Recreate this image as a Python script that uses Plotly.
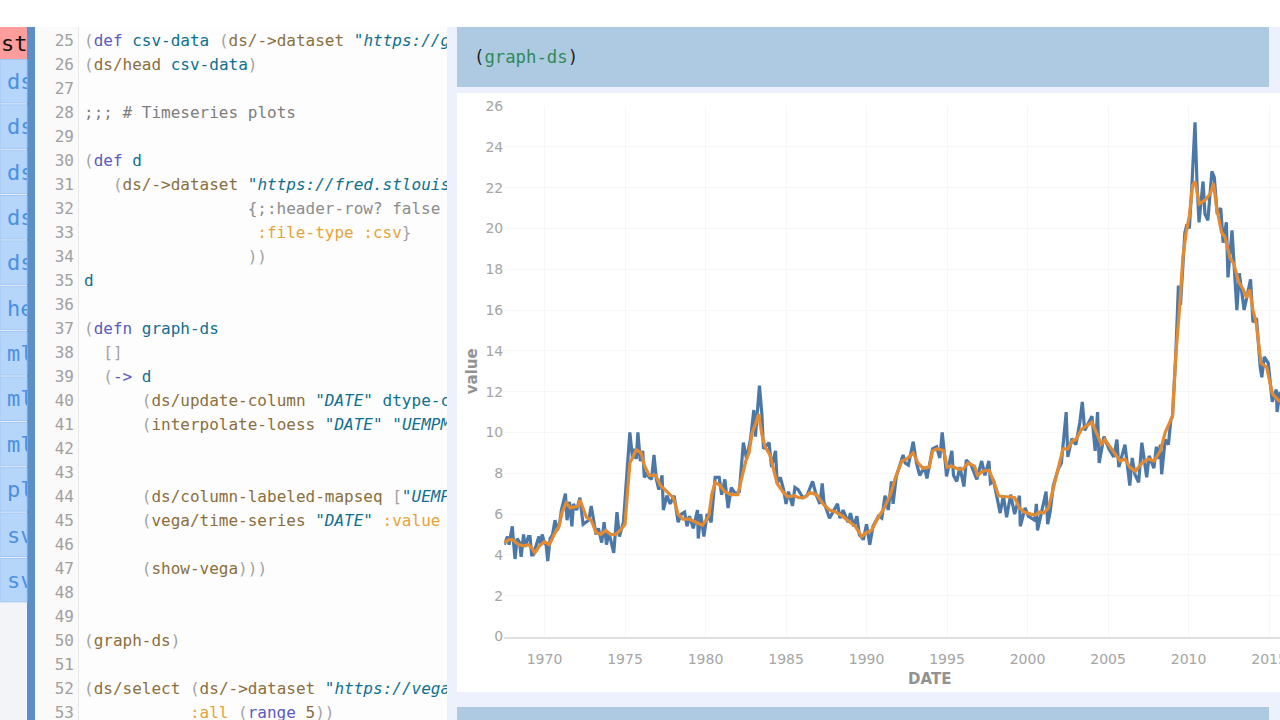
import pandas as pd
import plotly.graph_objects as go

# ---- chart data: (decimal year, value)
blue_points = [
(1967.5,4.5),(1967.7,4.9),(1967.8,4.5),(1967.9,5.1),(1968.0,5.4),(1968.08,4.6),(1968.17,3.8),(1968.3,4.8),
(1968.45,4.6),(1968.55,3.9),(1968.7,5.0),(1968.8,4.4),(1969.0,4.9),(1969.1,4.9),(1969.2,4.0),(1969.3,4.0),
(1969.5,4.5),(1969.65,4.9),(1969.76,4.5),(1969.85,5.0),(1970.0,4.6),(1970.1,4.5),(1970.2,3.7),(1970.35,4.8),
(1970.5,5.0),(1970.65,5.7),(1970.8,5.2),(1970.95,5.6),(1971.05,6.2),(1971.3,7.0),(1971.4,5.7),(1971.55,6.6),
(1971.7,5.4),(1971.8,6.5),(1972.0,6.2),(1972.2,6.8),(1972.4,5.5),(1972.55,5.6),(1972.75,5.7),(1972.9,6.4),
(1973.05,5.7),(1973.2,5.0),(1973.35,5.3),(1973.55,4.6),(1973.7,5.6),(1973.85,4.5),(1974.0,5.1),(1974.3,4.1),
(1974.5,6.1),(1974.65,4.9),(1974.9,5.6),(1975.04,7.2),(1975.15,8.5),(1975.3,10.0),(1975.47,8.7),(1975.6,9.2),
(1975.7,8.7),(1975.8,10.0),(1975.95,8.6),(1976.1,9.1),(1976.2,7.8),(1976.35,8.0),(1976.5,7.8),(1976.65,7.7),
(1976.8,8.9),(1976.95,7.7),(1977.1,7.2),(1977.3,7.9),(1977.38,6.2),(1977.6,6.9),(1977.8,6.5),(1978.05,6.9),
(1978.3,5.6),(1978.5,6.0),(1978.7,6.1),(1978.85,5.4),(1979.0,5.9),(1979.24,5.3),(1979.5,6.2),(1979.55,4.8),
(1979.7,6.0),(1979.9,4.9),(1980.1,6.0),(1980.35,5.6),(1980.6,7.8),(1980.85,7.8),(1981.0,6.95),(1981.2,7.7),
(1981.4,6.3),(1981.6,7.3),(1981.85,7.0),(1982.1,7.1),(1982.35,9.5),(1982.55,8.7),(1982.8,9.7),(1983.0,11.1),
(1983.1,9.8),(1983.35,12.3),(1983.5,10.9),(1983.6,9.2),(1983.95,9.5),(1984.1,8.3),(1984.35,9.1),(1984.45,7.5),
(1984.65,7.8),(1984.85,7.2),(1985.0,6.5),(1985.15,7.1),(1985.4,6.4),(1985.55,7.3),(1985.75,7.2),(1986.05,6.8),
(1986.3,6.9),(1986.65,7.6),(1986.85,7.0),(1987.1,6.5),(1987.25,7.5),(1987.35,6.6),(1987.7,5.8),(1987.85,6.0),
(1988.2,6.5),(1988.35,5.8),(1988.55,6.2),(1988.85,5.6),(1989.0,6.05),(1989.2,5.4),(1989.4,5.9),(1989.55,5.0),
(1989.8,4.75),(1990.0,5.5),(1990.2,4.5),(1990.4,5.4),(1990.75,5.9),(1990.95,5.8),(1991.15,6.9),(1991.35,6.2),
(1991.55,7.6),(1991.65,6.5),(1991.85,7.85),(1992.27,8.9),(1992.4,8.5),(1992.6,8.4),(1992.9,9.55),(1993.1,8.5),
(1993.3,7.9),(1993.6,8.3),(1993.75,7.75),(1994.1,9.2),(1994.35,9.3),(1994.55,8.75),(1994.7,10.0),(1994.82,9.1),
(1994.97,7.85),(1995.3,9.1),(1995.4,7.9),(1995.6,7.6),(1995.8,8.3),(1996.05,7.35),(1996.2,8.65),(1996.5,8.4),
(1996.85,7.7),(1997.15,8.6),(1997.35,7.9),(1997.6,8.6),(1997.7,7.5),(1997.9,7.6),(1998.3,6.05),(1998.5,6.9),
(1998.7,5.85),(1998.95,6.95),(1999.2,6.0),(1999.5,6.9),(1999.55,5.4),(1999.85,6.3),(2000.05,5.9),(2000.45,5.7),
(2000.55,6.5),(2000.62,5.2),(2000.85,6.1),(2001.15,7.1),(2001.25,5.5),(2001.4,6.1),(2001.6,7.4),(2001.9,8.2),
(2002.1,8.5),(2002.4,11.0),(2002.5,8.8),(2002.75,9.7),(2003.0,9.4),(2003.25,10.5),(2003.4,11.5),(2003.55,10.1),
(2004.0,10.8),(2004.2,9.1),(2004.35,11.0),(2004.45,8.5),(2004.75,9.8),(2005.05,9.2),(2005.35,8.8),(2005.55,9.65),
(2005.67,8.3),(2006.05,9.4),(2006.35,7.4),(2006.5,8.75),(2006.67,7.95),(2006.9,7.55),(2007.1,9.5),(2007.4,7.8),
(2007.55,8.85),(2007.85,8.25),(2008.0,9.3),(2008.15,8.7),(2008.25,9.4),(2008.33,7.95),(2008.55,9.65),(2008.75,9.4),
(2008.9,10.6),(2009.0,10.8),(2009.2,13.7),(2009.37,17.2),(2009.5,16.25),(2009.77,19.8),(2009.9,20.2),(2010.05,20.0),
(2010.2,22.0),(2010.4,25.2),(2010.52,22.3),(2010.65,20.3),(2010.9,22.3),(2011.02,20.7),(2011.2,20.4),(2011.45,22.8),
(2011.6,22.5),(2011.78,20.7),(2012.0,21.0),(2012.15,19.3),(2012.35,20.3),(2012.45,17.6),(2012.7,19.9),(2012.87,17.8),
(2013.0,16.0),(2013.15,17.8),(2013.45,16.0),(2013.85,17.5),(2014.0,15.4),(2014.22,15.6),(2014.45,13.2),(2014.55,12.7),
(2014.7,13.7),(2014.95,13.4),(2015.2,11.5),(2015.45,12.1),(2015.5,11.0),(2015.68,12.0),
]
orange_points = [
(1967.5,4.6),(1967.8,4.75),(1968.0,4.75),(1968.4,4.5),(1968.7,4.45),(1969.0,4.5),(1969.2,4.35),(1969.4,4.1),
(1969.7,4.45),(1970.0,4.65),(1970.3,4.5),(1970.6,5.0),(1970.9,5.4),(1971.1,6.1),(1971.35,6.55),(1971.6,6.3),
(1971.9,6.35),(1972.1,6.4),(1972.2,6.7),(1972.4,6.3),(1972.6,5.85),(1972.9,5.7),(1973.2,5.1),(1973.5,5.0),
(1973.8,5.2),(1974.1,5.0),(1974.4,5.0),(1974.7,5.2),(1975.0,5.5),(1975.15,7.0),(1975.3,8.5),(1975.7,9.15),
(1976.0,9.0),(1976.2,8.4),(1976.5,7.9),(1976.9,7.9),(1977.2,7.4),(1977.6,7.1),(1978.0,6.8),(1978.3,6.0),
(1978.6,5.75),(1979.0,5.75),(1979.4,5.6),(1979.8,5.45),(1980.2,5.9),(1980.4,7.0),(1980.6,7.55),(1980.9,7.4),
(1981.2,7.1),(1981.6,6.95),(1982.0,6.95),(1982.2,7.6),(1982.5,8.6),(1982.7,9.0),(1982.9,10.0),(1983.1,10.4),
(1983.3,10.9),(1983.5,9.9),(1983.7,9.3),(1984.0,8.9),(1984.2,8.3),(1984.45,7.5),(1984.8,7.1),(1985.1,6.85),
(1985.5,6.9),(1985.8,6.8),(1986.1,6.8),(1986.5,7.05),(1986.9,6.95),(1987.3,6.5),(1987.7,6.2),(1988.1,6.1),
(1988.5,5.9),(1989.0,5.6),(1989.3,5.4),(1989.7,4.9),(1990.0,5.1),(1990.3,5.2),(1990.7,5.8),(1991.1,6.3),
(1991.5,7.0),(1991.8,7.8),(1992.2,8.6),(1992.5,8.7),(1992.9,9.0),(1993.2,8.5),(1993.5,8.25),(1993.9,8.3),
(1994.1,9.1),(1994.4,9.2),(1994.8,9.1),(1995.0,8.3),(1995.3,8.35),(1995.7,8.2),(1996.0,8.2),(1996.3,8.5),
(1996.7,8.35),(1996.9,7.9),(1997.2,8.1),(1997.6,8.15),(1997.9,7.6),(1998.2,6.9),(1998.5,6.85),(1998.9,6.85),
(1999.2,6.8),(1999.5,6.3),(1999.8,6.1),(2000.2,6.0),(2000.5,5.95),(2000.7,6.1),(2001.0,6.05),(2001.3,6.3),
(2001.6,7.3),(2001.9,8.2),(2002.2,9.2),(2002.5,9.2),(2002.8,9.6),(2003.0,9.65),(2003.35,10.15),(2004.0,10.5),
(2004.3,9.9),(2004.6,9.4),(2004.8,9.65),(2005.2,9.2),(2005.75,8.6),(2006.05,8.7),(2006.35,8.3),(2006.7,8.1),
(2007.1,8.5),(2007.5,8.7),(2007.85,8.6),(2008.25,9.1),(2008.55,10.0),(2009.0,10.8),(2009.2,13.7),(2009.45,16.2),
(2009.65,18.6),(2009.85,19.8),(2010.05,20.6),(2010.25,22.1),(2010.4,22.3),(2010.67,21.2),(2011.05,21.4),(2011.35,21.7),
(2011.55,22.2),(2011.75,21.0),(2012.05,19.8),(2012.25,19.6),(2012.6,18.5),(2012.8,18.3),(2013.1,17.4),(2013.4,17.0),
(2013.6,16.6),(2013.8,17.0),(2014.0,16.0),(2014.2,15.35),(2014.5,13.4),(2014.85,13.2),(2015.2,11.9),(2015.68,11.5),
]
value_ticks = list(range(0, 27, 2))

# ---- editor text
PAREN, KW, NAME, CALL, STR, CMT, KEY, PLAIN = "#a3a3a3", "#5a5ac2", "#0f6f8f", "#8a6f3e", "#0f6f8f", "#7d7d7d", "#e6a33a", "#8c8c8c"
code_lines = {
    25: (0, [("(", PAREN), ("def", KW), (" ", PLAIN), ("csv-data", NAME), (" (", PAREN), ("ds/->dataset", CALL), (' "', STR), ("<i>https://g</i>", STR)]),
    26: (0, [("(", PAREN), ("ds/head", CALL), (" ", PLAIN), ("csv-data", NAME), (")", PAREN)]),
    28: (0, [(";;; # Timeseries plots", CMT)]),
    30: (0, [("(", PAREN), ("def", KW), (" ", PLAIN), ("d", NAME)]),
    31: (3, [("(", PAREN), ("ds/->dataset", CALL), (' "', STR), ("<i>https://fred.stlouis</i>", STR)]),
    32: (17, [("{;:header-row? false", PLAIN)]),
    33: (18, [(":file-type :csv", KEY), ("}", PAREN)]),
    34: (17, [("))", PAREN)]),
    35: (0, [("d", NAME)]),
    37: (0, [("(", PAREN), ("defn", KW), (" ", PLAIN), ("graph-ds", NAME)]),
    38: (2, [("[]", PAREN)]),
    39: (2, [("(", PAREN), ("->", KW), (" ", PLAIN), ("d", NAME)]),
    40: (6, [("(", PAREN), ("ds/update-column", CALL), (' "', STR), ("<i>DATE</i>", STR), ('" ', STR), ("dtype-c", NAME)]),
    41: (6, [("(", PAREN), ("interpolate-loess", CALL), (' "', STR), ("<i>DATE</i>", STR), ('" "', STR), ("<i>UEMPM</i>", STR)]),
    44: (6, [("(", PAREN), ("ds/column-labeled-mapseq", CALL), (" [", PAREN), ('"', STR), ("<i>UEMP</i>", STR)]),
    45: (6, [("(", PAREN), ("vega/time-series", CALL), (' "', STR), ("<i>DATE</i>", STR), ('" ', STR), (":value", KEY)]),
    47: (6, [("(", PAREN), ("show-vega", CALL), (")))", PAREN)]),
    50: (0, [("(", PAREN), ("graph-ds", CALL), (")", PAREN)]),
    52: (0, [("(", PAREN), ("ds/select", CALL), (" (", PAREN), ("ds/->dataset", CALL), (' "', STR), ("<i>https://vega</i>", STR)]),
    53: (11, [(":all", KEY), (" (", PAREN), ("range", KW), (" ", PLAIN), ("5", CALL), ("))", PAREN)]),
}
line_numbers = list(range(25, 54))
sidebar_labels = ["st", "ds", "ds", "ds", "ds", "ds", "he", "ml", "ml", "ml", "pl", "sv", "sv"]
sidebar_rows = [0.162] + list(range(1, 13))
sidebar_columns = [1] + [7] * 12
W, H = 1280, 720


def to_date(year):
    whole = int(year)
    return pd.Timestamp(whole, 1, 1) + pd.Timedelta(days=(year - whole) * 365.25)


def markup(parts):
    out = ""
    for text, colour in parts:
        out += f'<span style="color:{colour}">' + text.replace(" ", "\u00a0") + "</span>"
    return out


def box(x0, y0, x1, y1, fill, line=None):
    return dict(type="rect", xref="paper", yref="paper", x0=x0 / W, x1=x1 / W, y0=1 - y1 / H, y1=1 - y0 / H,
                fillcolor=fill, line=dict(color=line or fill, width=1 if line else 0), layer="below")


shapes = [
    box(0, 27, 27, 720, "#f3f4f7"),
    box(35, 27, 447, 720, "#fdfdfd"),
    box(35, 27, 78, 720, "#fafafa"),
    box(78, 27, 79, 720, "#e8e8e8"),
    box(27, 27, 35, 720, "#5b8fc5"),
    box(447, 27, 1280, 720, "#edf1fd"),
    box(457, 27, 1269, 87, "#aecae2"),
    box(457, 93, 1280, 692, "#ffffff"),
    box(457, 707, 1269, 720, "#aecae2"),
    box(0, 27, 27, 59, "#ff9c9c"),
]
for i in range(12):
    top = 59.5 + 45.35 * i
    shapes.append(box(0, top, 27, top + 43.5, "#b6d5fb", "#9fc6f4"))

fig = go.Figure()

# main chart
fig.add_trace(go.Scatter(x=[to_date(p[0]) for p in blue_points], y=[p[1] for p in blue_points], mode="lines",
                         line=dict(color="#4c78a8", width=3.2), hoverinfo="skip", xaxis="x", yaxis="y"))
fig.add_trace(go.Scatter(x=[to_date(p[0]) for p in orange_points], y=[p[1] for p in orange_points], mode="lines",
                         line=dict(color="#e48b32", width=3.2), hoverinfo="skip", xaxis="x", yaxis="y"))

# editor gutter and code
fig.add_trace(go.Scatter(x=[-1.04] * len(line_numbers), y=line_numbers, text=[str(n) for n in line_numbers],
                         mode="text", textposition="middle left",
                         textfont=dict(family="DejaVu Sans Mono", size=16, color="#a0a0a0"),
                         hoverinfo="skip", xaxis="x2", yaxis="y2"))
fig.add_trace(go.Scatter(x=[v[0] for v in code_lines.values()], y=list(code_lines),
                         text=[markup(v[1]) for v in code_lines.values()],
                         mode="text", textposition="middle right",
                         textfont=dict(family="DejaVu Sans Mono", size=16, color=PLAIN),
                         hoverinfo="skip", xaxis="x2", yaxis="y2"))

# sidebar labels, clipped by their own narrow subplot
fig.add_trace(go.Scatter(x=sidebar_columns, y=sidebar_rows, text=sidebar_labels,
                         mode="text", textposition="middle right",
                         textfont=dict(family="DejaVu Sans Mono", size=22,
                                       color=["#111111"] + ["#4a90e2"] * 12),
                         hoverinfo="skip", xaxis="x3", yaxis="y3"))

axis_font = dict(family="DejaVu Sans", size=14, color="#a5a5a5")
title_font = dict(family="DejaVu Sans", size=15, color="#929292")
hidden = dict(visible=False, showgrid=False, zeroline=False, fixedrange=True)

fig.update_layout(
    width=W, height=H, autosize=False, showlegend=False,
    margin=dict(l=0, r=0, t=0, b=0, pad=0),
    paper_bgcolor="#ffffff", plot_bgcolor="rgba(0,0,0,0)",
    shapes=shapes,
    xaxis=dict(domain=[504.25 / W, 1], range=[to_date(1967.5), to_date(2015.68)], type="date",
               tick0="1970-01-01", dtick="M60", tickformat="%Y", tickfont=axis_font,
               ticklabeloverflow="allow",
               showgrid=True, gridcolor="#f7f7f7", gridwidth=1, zeroline=False,
               showline=True, linecolor="#e0e0e0", linewidth=2,
               ticks="outside", ticklen=9, tickcolor="rgba(0,0,0,0)",
               automargin=False, anchor="y"),
    yaxis=dict(domain=[1 - 636.5 / H, 1 - 106 / H], range=[0, 26], tickvals=value_ticks, tickfont=axis_font,
               showgrid=True, gridcolor="#f7f7f7", gridwidth=1, zeroline=False, showline=False,
               automargin=False, title=dict(text="<b>value</b>", font=title_font, standoff=4), anchor="x"),
    xaxis2=dict(domain=[35 / W, 447 / W], range=[(35 - 84) / 9.63, (447 - 84) / 9.63], anchor="y2", **hidden),
    yaxis2=dict(domain=[0, 1 - 27 / H], range=[25 + (720 - 42) / 24, 25 + (27 - 42) / 24], anchor="x2", **hidden),
    xaxis3=dict(domain=[0, 27 / W], range=[0, 27], anchor="y3", **hidden),
    yaxis3=dict(domain=[1 - 602 / H, 1 - 27 / H], range=[12.433, -0.243], anchor="x3", **hidden),
    annotations=[
        dict(xref="paper", yref="paper", x=472 / W, y=1 - 57 / H, xanchor="left", yanchor="middle", showarrow=False,
             text='<span style="color:#222222">(</span><span style="color:#2e8b57">graph-ds</span><span style="color:#222222">)</span>',
             font=dict(family="DejaVu Sans Mono", size=17.3)),
        dict(xref="paper", yref="paper", x=929 / W, y=1 - 679 / H, xanchor="center", yanchor="middle", showarrow=False,
             text="<b>DATE</b>", font=title_font),
    ],
)

fig.write_html("out.html", config=dict(displayModeBar=False, staticPlot=True),
               post_script="document.body.style.margin='0';document.body.style.overflow='hidden';")
